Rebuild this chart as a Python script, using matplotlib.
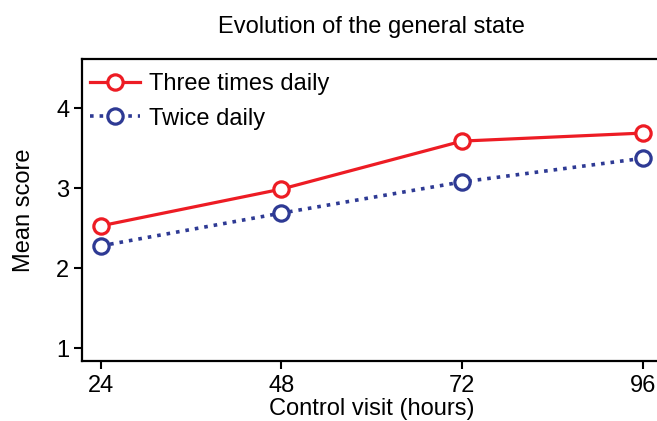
import matplotlib
matplotlib.use("Agg")
import matplotlib.pyplot as plt

hours = [24, 48, 72, 96]
three_times = [2.53, 2.99, 3.59, 3.69]
twice = [2.28, 2.69, 3.08, 3.375]
yticks = [1, 2, 3, 4]
title = "Evolution of the general state"
xlabel = "Control visit (hours)"
ylabel = "Mean score"

plt.rcParams['font.family'] = ['Liberation Sans', 'DejaVu Sans']
plt.rcParams['font.size'] = 17

red = '#ED1C24'
blue = '#2E3A94'

fig = plt.figure(figsize=(6.57, 4.21), dpi=100)
ax = fig.add_axes([0.1243, 0.1432, 1.0076 - 0.1243, 0.8599 - 0.1432])

ax.plot(hours, three_times, color=red, lw=2.3, marker='o', ms=11,
        mfc='white', mec=red, mew=2.3, label='Three times daily')
ax.plot(hours, twice, color=blue, lw=2.6, ls=':', marker='o', ms=11,
        mfc='white', mec=blue, mew=2.3, label='Twice daily')

ax.set_xlim(21.48, 98.52)
ax.set_ylim(0.845, 4.616)
ax.set_xticks(hours)
ax.set_yticks(yticks)
ax.tick_params(direction='out', length=6, width=1.5, pad=3, labelsize=17)
ax.tick_params(axis='x', pad=4)
for s in ax.spines.values():
    s.set_linewidth(1.6)

ax.set_title(title, fontsize=17, pad=19)
ax.set_xlabel(xlabel, fontsize=17, labelpad=1)
ax.set_ylabel(ylabel, fontsize=17, labelpad=15)

ax.legend(loc='upper left', bbox_to_anchor=(0.0143, 0.952), frameon=False,
          borderpad=0, borderaxespad=0, handlelength=2.1, handletextpad=0.4,
          labelspacing=0.51, fontsize=17)

fig.savefig('out.png', dpi=100)
